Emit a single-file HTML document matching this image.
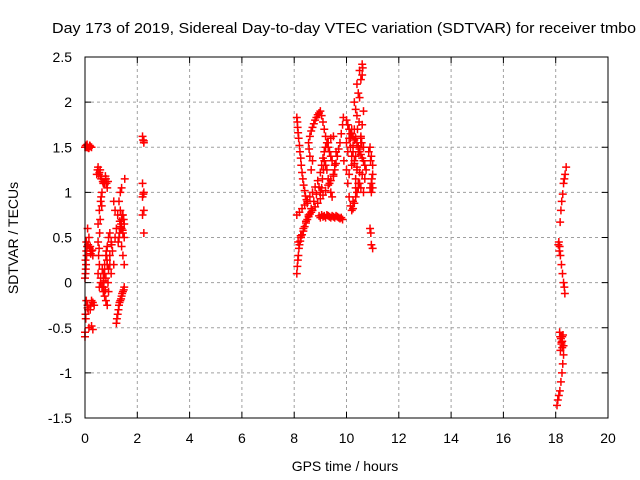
<!DOCTYPE html>
<html><head><meta charset="utf-8"><style>
body{margin:0;background:#fff}
svg{display:block;font-family:"Liberation Sans",sans-serif}
</style></head><body>
<svg id="chart" width="640" height="480">
<text x="344" y="33" font-size="15" textLength="584" lengthAdjust="spacingAndGlyphs" text-anchor="middle">Day 173 of 2019, Sidereal Day-to-day VTEC variation (SDTVAR) for receiver tmbo</text>
<text x="345" y="471" font-size="14" text-anchor="middle">GPS time / hours</text>
<text transform="translate(18,238) rotate(-90)" font-size="14" text-anchor="middle">SDTVAR / TECUs</text>
<g id="grid"></g><g id="ticks"></g><g id="marks"></g>
<rect x="85" y="57" width="523" height="361" fill="none" stroke="#000" stroke-width="1"/>
</svg>
<script>
const xTicks=[0,2,4,6,8,10,12,14,16,18,20];
const yTicks=[-1.5,-1,-0.5,0,0.5,1,1.5,2,2.5];
const yTickLabels=["-1.5","-1","-0.5","0","0.5","1","1.5","2","2.5"];
// clusters: hours and SDTVAR values
const c1Hours=[0,0.03,0.05,0.08,0.1,0.13,0.15,0.18,0.2,0.25,0.05,0.1,0.15,0.2,0.25,0.3,0.02,0.03,0.0,0.05,0.1,0.2,0.3,0.35,0.15,0.25,0.3,0.0,0.02,0.05,0.08,0.12,0.18,0.22,0.28,0.02,0.04,0.06,0.1,0.12,0.2,0.25,0.0,0.03];
const c1Vals=[1.5,1.52,1.5,1.53,1.5,1.49,1.49,1.52,1.51,1.5,0.45,0.6,0.5,0.4,0.35,0.3,0.25,0.15,0.05,-0.2,-0.25,-0.3,-0.22,-0.25,-0.5,-0.48,-0.52,-0.6,-0.35,0.35,0.4,0.42,0.38,0.32,0.36,0.1,0.2,0.3,-0.28,-0.3,-0.26,-0.2,-0.55,-0.4];
const c2Hours=[0.45,0.5,0.55,0.6,0.7,0.8,0.85,0.65,0.6,0.55,0.5,0.5,0.52,0.55,0.5,0.6,0.65,0.7,0.75,0.8,0.85,0.9,0.7,0.75,0.8,0.85,0.9,0.95,1.0,1.05,0.7,0.75,0.8,0.85,0.9,0.95,1.0,1.1,1.15,1.2,1.15,1.1,0.6,0.55,0.48,0.53,0.58,0.62,0.68,0.75,0.78,0.82,0.88,0.62,0.64,0.58,0.56,0.54,0.72,0.78,0.84,0.95,1.02,0.66,0.72,0.82,0.88];
const c2Vals=[1.2,1.28,1.22,1.18,1.1,1.15,1.05,1.0,0.9,0.8,0.65,0.45,0.3,0.2,0.1,0.05,-0.05,-0.1,-0.15,-0.2,-0.25,-0.1,0.1,0.2,0.3,0.4,0.5,0.55,0.45,0.35,0.0,0.1,0.05,0.2,0.15,0.3,0.1,0.9,0.8,0.6,0.5,0.2,0.0,-0.05,1.25,1.2,1.25,1.15,1.12,1.1,1.18,1.1,1.12,0.95,0.85,0.7,0.55,0.38,0.02,-0.08,0.25,0.2,0.42,0.15,-0.05,0.35,0.0];
const c3Hours=[1.2,1.25,1.3,1.35,1.4,1.45,1.5,1.3,1.35,1.4,1.45,1.5,1.35,1.4,1.45,1.5,1.4,1.45,1.5,1.35,1.4,1.3,1.25,1.22,1.28,1.32,1.38,1.42,1.48,1.32,1.38,1.42,1.48,1.36,1.44,1.52,1.27,1.33];
const c3Vals=[-0.45,-0.35,-0.25,-0.2,-0.15,-0.1,-0.05,0.5,0.6,0.7,0.75,0.65,0.8,0.6,0.55,0.5,0.4,0.3,0.2,1.0,1.05,0.9,0.75,-0.4,-0.3,-0.22,-0.18,-0.12,-0.08,0.55,0.65,0.75,0.7,0.62,0.58,1.15,0.45,0.68];
const c4Hours=[2.2,2.25,2.2,2.25,2.2,2.25,2.2,2.25,2.25,2.22,2.23];
const c4Vals=[1.62,1.57,1.1,1.0,0.95,0.8,0.75,0.55,1.55,1.58,0.98];
const c5Hours=[8.10,8.12,8.13,8.15,8.17,8.2,8.22,8.25,8.27,8.3,8.33,8.36,8.4,8.43,8.47,8.5,
8.1,8.12,8.14,8.16,8.18,8.2,8.23,8.26,8.3,8.35,8.4,8.45,8.5,8.55,8.6,8.65,8.7,8.8,8.9,9.0,9.1,9.2,9.3,9.4,9.5,9.55,9.6,9.65,9.7,9.75,9.8,9.85,9.88,
8.95,9.0,9.05,9.1,9.15,9.2,9.25,9.3,9.35,9.4,9.45,9.5,9.55,9.6,9.65,9.7,9.75,9.8,9.85,
8.1,8.2,8.3,8.4,8.5,8.6,8.7,8.8,8.9,9.0,9.05,9.1,9.15,9.2,9.3,9.4,9.5,8.15,8.25,8.35,8.45,8.55,8.65,8.75,8.85,8.95];
const c5Vals=[1.83,1.78,1.72,1.66,1.6,1.52,1.45,1.38,1.3,1.22,1.15,1.08,1.02,0.96,0.92,0.88,
0.1,0.18,0.25,0.3,0.38,0.42,0.46,0.5,0.53,0.57,0.62,0.66,0.7,0.73,0.76,0.78,0.8,0.84,0.88,0.93,0.97,1.02,1.08,1.13,1.18,1.25,1.32,1.4,1.48,1.55,1.65,1.75,1.83,
0.74,0.72,0.75,0.73,0.74,0.72,0.75,0.74,0.73,0.72,0.74,0.73,0.72,0.74,0.73,0.72,0.71,0.72,0.7,
0.75,0.78,0.82,0.86,0.9,0.95,1.0,1.06,1.13,1.22,1.3,1.38,1.45,1.5,1.55,1.6,1.62,0.45,0.52,0.6,0.68,0.75,0.82,0.9,0.98,1.06];
const c6Hours=[8.55,8.57,8.6,8.6,8.65,8.7,8.75,8.8,8.85,8.9,8.95,9.0,9.05,9.1,9.15,9.2,9.25,9.3,9.35,9.4,9.45,9.15,9.12,9.08,9.05,9.0,9.2,9.25,9.3,9.35,9.4,9.45,9.5,9.55,9.6,8.65,8.7];
const c6Vals=[1.55,1.48,1.4,1.62,1.68,1.72,1.76,1.8,1.83,1.86,1.88,1.9,1.85,1.78,1.7,1.62,1.55,1.5,1.45,1.4,1.35,1.35,1.25,1.15,1.05,1.0,1.3,1.25,1.15,1.1,1.0,0.95,1.2,1.3,1.45,1.25,1.35];
const c7Hours=[9.9,10.0,10.05,10.1,10.15,10.2,10.25,10.3,10.35,10.4,10.45,10.5,10.55,10.6,10.65,10.0,10.1,10.2,10.3,10.4,10.5,10.6,10.05,10.15,10.25,10.35,10.45,10.55,10.65,10.3,10.4,10.5,10.6,10.1,10.2,10.3,10.4,10.5,
10.0,10.05,10.1,10.15,10.2,10.25,10.3,10.35,10.4,10.45,10.5,10.55,10.6,10.65,10.7,10.75,10.2,10.3,10.4,10.5,10.6,10.7,10.15,10.25,10.35,10.45,10.55,10.65,10.35,10.45,10.55,10.62,10.42,10.48,10.55,10.58,10.25,10.35];
const c7Vals=[1.35,1.25,1.1,0.95,0.85,0.8,0.82,0.88,0.95,1.0,1.05,1.1,1.6,1.75,1.9,1.55,1.6,1.65,1.7,1.85,2.05,2.3,1.45,1.5,1.52,1.4,1.45,1.55,1.5,2.0,2.2,2.35,2.42,1.2,1.3,1.35,1.25,1.45,
1.8,1.75,1.7,1.65,1.7,1.62,1.58,1.6,1.55,1.5,1.48,1.42,1.38,1.35,1.3,1.25,1.4,1.32,1.28,1.22,1.2,1.15,1.6,1.45,1.15,1.1,1.05,1.0,1.92,2.1,2.25,2.38,1.7,1.78,1.62,1.55,0.9,1.05];
const c8Hours=[10.85,10.9,10.95,11.0,11.0,10.95,10.9,10.95,11.0,10.9,10.95,11.0,10.92,10.97,10.93];
const c8Vals=[1.45,1.5,1.4,1.3,1.2,1.1,1.05,1.0,1.05,0.6,0.42,0.38,1.35,1.15,0.55];
const c9Hours=[18.17,18.2,18.23,18.27,18.3,18.33,18.36,18.4,18.12,18.15,18.18,18.22,18.26,18.3,18.33,18.35,18.15,18.2,18.25,18.3,18.18,18.22,18.28,18.3,18.27,18.24,18.2,18.16,18.12,18.08,18.05,18.2,18.25,18.22,18.17,18.25,18.14,18.1];
const c9Vals=[0.67,0.8,0.9,0.98,1.1,1.15,1.2,1.28,0.45,0.4,0.3,0.2,0.1,0.0,-0.05,-0.12,-0.55,-0.6,-0.65,-0.7,-0.75,-0.68,-0.58,-0.8,-0.9,-1.0,-1.1,-1.2,-1.25,-1.3,-1.36,-0.62,-0.72,-0.66,-0.6,-0.6,0.35,0.42];
const series=[[c1Hours,c1Vals],[c2Hours,c2Vals],[c3Hours,c3Vals],[c4Hours,c4Vals],[c5Hours,c5Vals],[c6Hours,c6Vals],[c7Hours,c7Vals],[c8Hours,c8Vals],[c9Hours,c9Vals]];
const NS="http://www.w3.org/2000/svg";
const X=v=>85+v*(523/20), Y=v=>418-(v+1.5)*(361/4);
const grid=document.getElementById('grid'),ticks=document.getElementById('ticks'),marks=document.getElementById('marks');
function mk(tag,attrs,parent){const e=document.createElementNS(NS,tag);for(const k in attrs)e.setAttribute(k,attrs[k]);parent.appendChild(e);return e;}
xTicks.forEach(t=>{const x=X(t);
 if(t>0&&t<20){const g=mk('line',{x1:x,x2:x,y1:57,y2:418,stroke:'#a0a0a0','stroke-dasharray':'3,3'},grid);
 
 }
 mk('line',{x1:x,x2:x,y1:418,y2:412,stroke:'#000'},ticks);mk('line',{x1:x,x2:x,y1:57,y2:63,stroke:'#000'},ticks);
 const l=mk('text',{x:x,y:443,'font-size':14,'text-anchor':'middle'},ticks);l.textContent=t;
 
 });
yTicks.forEach((t,i)=>{const y=Y(t);
 if(t>-1.5&&t<2.5){const g=mk('line',{x1:85,x2:608,y1:y,y2:y,stroke:'#a0a0a0','stroke-dasharray':'3,3'},grid);
 
 }
 mk('line',{x1:85,x2:91,y1:y,y2:y,stroke:'#000'},ticks);mk('line',{x1:608,x2:602,y1:y,y2:y,stroke:'#000'},ticks);
 const l=mk('text',{x:72,y:y+5,'font-size':14,'text-anchor':'end'},ticks);l.textContent=yTickLabels[i];
 
 });
series.forEach(([hs,vs])=>hs.forEach((h,i)=>{const x=X(h),y=Y(vs[i]);
 const p=mk('path',{d:`M${x-4} ${y}H${x+4}M${x} ${y-4}V${y+4}`,stroke:'#f00','stroke-width':1.5},marks);
 
 }));
</script>
</body></html>
